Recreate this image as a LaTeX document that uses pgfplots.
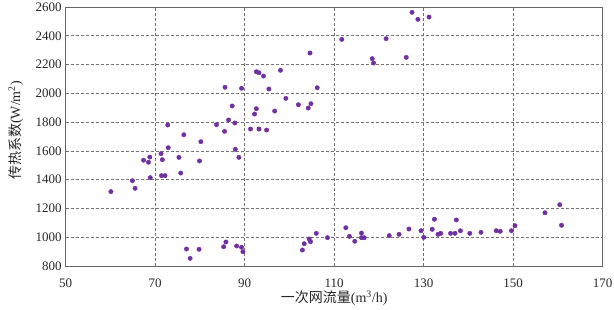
\documentclass[border=0pt]{standalone}
\usepackage{pgfplots}
\pgfplotsset{compat=1.18}
\usepackage{fontspec}
\setmainfont{Liberation Serif}
\newfontfamily\cjk{Noto Sans CJK SC}
\definecolor{pt}{HTML}{7030A0}
\begin{document}
\begin{tikzpicture}
\begin{axis}[
  scale only axis,
  width=537pt, height=259pt,
  xmin=50, xmax=170, ymin=800, ymax=2600,
  xtick={50,70,...,170}, ytick={800,1000,...,2600},
  /pgf/number format/assume math mode=true,
  /pgf/number format/1000 sep={},
  tick label style={font=\fontsize{13}{15}\selectfont, text=black!85},
  major tick length=0pt,
  grid=major,
  major grid style={densely dashed, gray!90!black, line width=0.6pt},
  axis line style={gray!80!black, line width=0.7pt},
  xlabel={{\cjk 一次网流量}(m\textsuperscript{3}/h)},
  ylabel={{\cjk 传热系数}(W/m\textsuperscript{2})},
  label style={font=\fontsize{14}{16}\selectfont, text=black!85},
  xlabel style={at={(rel axis cs:0.5,0)}, anchor=center, yshift=-32pt},
  ylabel style={at={(rel axis cs:0,0.5)}, anchor=center, yshift=50pt, xshift=6pt},
  xticklabel style={anchor=center, yshift=-17pt},
  yticklabel style={anchor=east, xshift=-0.5pt},
]
\addplot[only marks, mark=*, mark size=2.2pt, mark options={fill=pt, draw=pt}] coordinates {
(60.1,1317) (64.9,1393) (65.5,1340) (67.4,1535) (68.5,1521) (68.8,1557)
(68.9,1414) (71.3,1581) (71.4,1428) (71.6,1539) (72.2,1428) (72.8,1780)
(72.9,1622) (75.3,1555) (75.7,1446) (76.4,1712) (79.9,1530) (80.2,1664)
(83.7,1782) (85.5,1736) (85.6,2042) (86.4,1815) (87.2,1912) (87.8,1794)
(87.9,1611) (88.7,1555) (89.3,2035) (91.3,1752) (92.2,1856) (92.6,1893)
(92.6,2150) (93.2,2143) (93.2,1752) (94.2,2120) (94.9,1745) (95.4,2030)
(96.7,1877) (98.0,2160) (99.2,1965) (102.0,1921) (104.2,1898) (104.8,1928)
(104.6,2280) (106.2,2039) (111.7,2375) (118.5,2241) (118.8,2211) (121.6,2380)
(126.1,2250) (127.4,2563) (128.7,2514) (131.2,2530)
(77.0,918) (77.8,853) (79.8,916) (85.3,934) (85.8,967) (88.2,939)
(89.3,930) (89.6,899) (102.9,911) (103.3,955) (104.4,988) (104.7,969)
(106.0,1027) (108.5,997) (112.6,1066) (113.4,1006) (114.6,972) (116.1,1029)
(116.1,997) (116.7,997) (122.3,1011) (124.5,1020) (126.7,1057) (129.4,1045)
(130.0,999) (131.9,1055) (132.4,1125) (133.2,1020) (133.8,1027) (136.0,1027)
(137.0,1027) (137.3,1120) (138.2,1045) (140.3,1027) (142.8,1034) (146.2,1045)
(147.1,1041) (149.6,1045) (150.4,1080) (157.1,1170) (160.4,1226) (160.8,1083)
};
\end{axis}
\pgfresetboundingbox
\path ([xshift=-65.7pt,yshift=-43pt]current axis.south west) rectangle ([xshift=11.3pt,yshift=7pt]current axis.north east);
\end{tikzpicture}
\end{document}
